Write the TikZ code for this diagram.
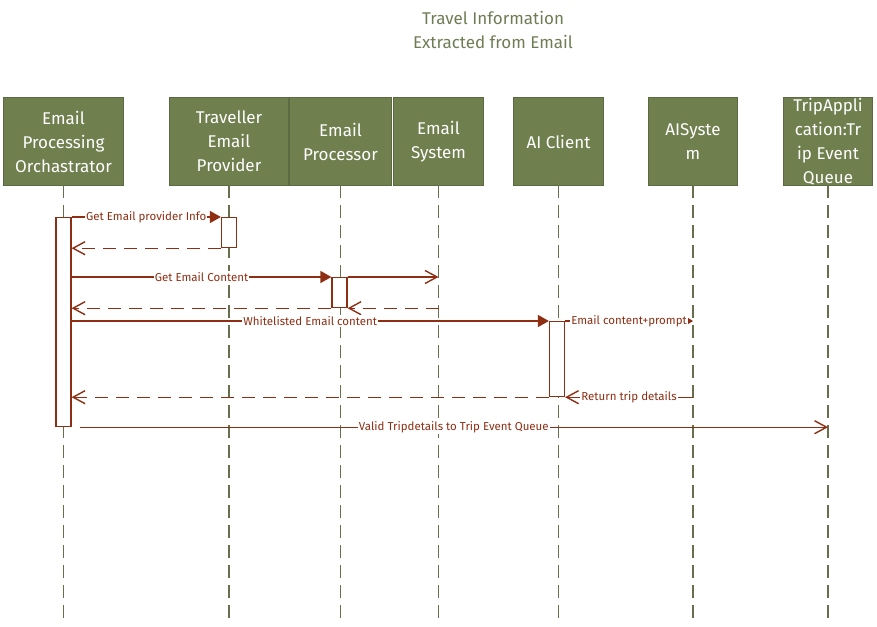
\documentclass[tikz,border=0pt]{standalone}
\usepackage{fontspec}
\setmainfont{Fira Sans}
\usetikzlibrary{positioning,arrows.meta}
\definecolor{boxgreen}{HTML}{6F7F4E}
\definecolor{boxedge}{HTML}{5B6A43}
\definecolor{lifegray}{HTML}{66704F}
\definecolor{msgred}{HTML}{8E2F14}
\definecolor{titlegreen}{HTML}{6E7D55}

\begin{document}
\begin{tikzpicture}[x=1pt,y=-1pt,
  actor/.style={draw=boxedge,line width=1.2pt,fill=boxgreen,text=white,align=center,outer sep=0pt,
    minimum height=87.8pt,inner sep=0pt,font=\fontsize{17}{24}\selectfont},
  life/.style={draw=lifegray,line width=1.1pt,dash pattern=on 13pt off 7pt},
  bar/.style={draw=msgred,line width=1.2pt,fill=white,minimum width=15pt,inner sep=0pt,anchor=north},
  call/.style={draw=msgred,line width=1.4pt,-{Triangle[length=11pt,width=12pt]}},
  send/.style={draw=msgred,line width=1.4pt,-{Straight Barb[length=12pt,width=13pt,line width=1.4pt]}},
  ret/.style={send,dash pattern=on 13pt off 8pt},
  lbl/.style={fill=white,inner sep=1pt,text=msgred,font=\fontsize{11.5}{13}\selectfont}]
\useasboundingbox (0,0) rectangle (877,626);

% title
\node[text=titlegreen,align=center,font=\fontsize{17}{24}\selectfont] (ttl) at (493,30)
  {Travel Information\\Extracted from Email};

% participants
\node[actor,minimum width=119.8pt] (orch) at (63.5,141.5) {Email\\Processing\\Orchastrator};
\node[actor,minimum width=118.8pt,right=46.2pt of orch] (prov) {Traveller\\Email\\Provider};
\node[actor,minimum width=101.8pt,right=1.2pt of prov] (proc) {Email\\Processor};
\node[actor,minimum width=89.8pt,right=2.2pt of proc] (esys) {Email\\System};
\node[actor,minimum width=89.8pt,right=30.2pt of esys] (aicl) {AI Client};
\node[actor,minimum width=88.8pt,right=45.2pt of aicl] (aisys) {AISyste\\m};
\node[actor,minimum width=88.8pt,right=46.2pt of aisys] (queue) {TripAppli\\cation:Tr\\ip Event\\Queue};

% lifelines
\foreach \n in {orch,prov,proc,esys,aicl,aisys,queue}
  \draw[life] (\n.south) -- ++(0,433);

% activation bars
\node[bar,minimum height=209pt] (orchbar) at (orch.south |- 0,217) {};
\node[bar,minimum height=30pt] (provbar) at (prov.south |- 0,217) {};
\node[bar,minimum height=30pt] (procbar) at ([xshift=-1pt]proc.south |- 0,277) {};
\node[bar,minimum height=75pt] (aibar) at ([xshift=-1.5pt]aicl.south |- 0,321) {};

% messages
\draw[call] (orchbar.north east) -- (provbar.north west) node[lbl,midway] {Get Email provider Info};
\draw[ret] (provbar.south west) -- (orchbar.east |- provbar.south);
\draw[call] (orchbar.east |- procbar.north) -- (procbar.north west) node[lbl,midway] {Get Email Content};
\draw[send] (procbar.north east) -- (esys.south |- procbar.north);
\draw[ret] (esys.south |- procbar.south) -- (procbar.south east);
\draw[ret] (procbar.south west) -- (orchbar.east |- procbar.south);
\draw[call] (orchbar.east |- aibar.north) -- (aibar.north west) node[lbl,midway] {Whitelisted Email content};
\draw[call,-{Triangle[length=6pt,width=7pt]}] (aibar.north east) -- (aisys.south |- aibar.north)
  node[lbl,midway] {Email content+prompt};
\draw[send] (aisys.south |- aibar.south) -- (aibar.south east) node[lbl,midway] {Return trip details};
\draw[ret] (aibar.south west) -- (orchbar.east |- aibar.south);
\draw[send] ([xshift=8pt]orchbar.south east) -- (queue.south |- orchbar.south)
  node[lbl,midway] {Valid Tripdetails to Trip Event Queue};
\end{tikzpicture}
\end{document}
